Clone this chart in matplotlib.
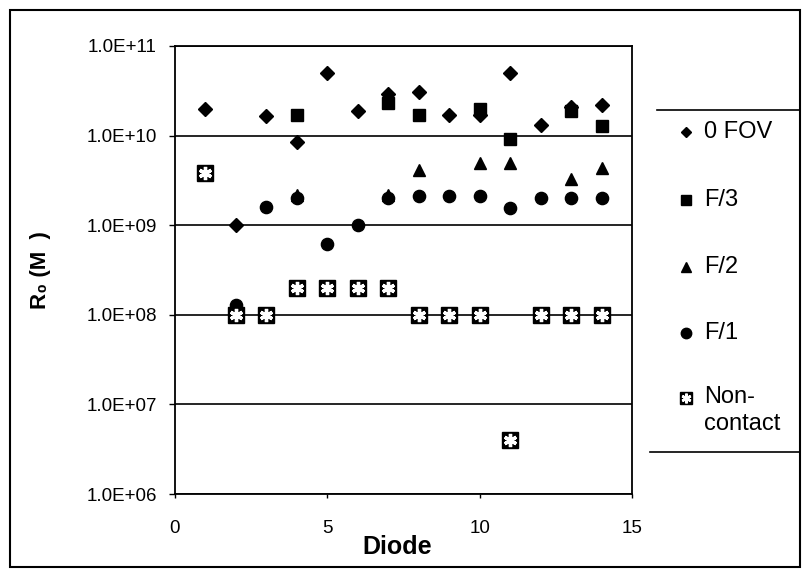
import numpy as np
import matplotlib.pyplot as plt
from matplotlib.lines import Line2D
from matplotlib.patches import Rectangle

#-------------------- DATA ------------------------#
diode = list(range(1, 15))
fov0 = [2.0e10, 1.0e9, 1.65e10, 8.5e9, 5.0e10, 1.9e10, 2.9e10,
        3.1e10, 1.7e10, 1.7e10, 5.0e10, 1.33e10, 2.1e10, 2.2e10]

f3_diode = [4, 7, 8, 10, 11, 13, 14]
f3 = [1.7e10, 2.3e10, 1.7e10, 2.0e10, 9.1e9, 1.9e10, 1.29e10]

f2_diode = [4, 7, 8, 10, 11, 13, 14]
f2 = [2.2e9, 2.2e9, 4.1e9, 5.0e9, 4.9e9, 3.3e9, 4.3e9]

f1_diode = list(range(2, 15))
f1 = [1.27e8, 1.6e9, 2.0e9, 6.2e8, 1.0e9, 2.0e9, 2.1e9,
      2.1e9, 2.1e9, 1.55e9, 2.0e9, 2.0e9, 2.0e9]

noncontact = [3.8e9, 1e8, 1e8, 2e8, 2e8, 2e8, 2e8,
              1e8, 1e8, 1e8, 4e6, 1e8, 1e8, 1e8]

yticks = [1e6, 1e7, 1e8, 1e9, 1e10, 1e11]
ytick_labels = ['1.0E+06', '1.0E+07', '1.0E+08', '1.0E+09', '1.0E+10', '1.0E+11']
xticks = [0, 5, 10, 15]

legend_labels = ['0 FOV', 'F/3', 'F/2', 'F/1', 'Non-\ncontact']

#-------------------- PLOTTING ------------------------#
W, H = 803, 579
plt.rcParams['font.family'] = ['Liberation Sans', 'DejaVu Sans']

def px(x, y):
    # pixel position (from top-left) -> figure fraction
    return x / W, 1 - y / H

fig = plt.figure(figsize=(W / 100, H / 100), dpi=100)
ax = fig.add_axes([175 / W, 1 - 494 / H, (632 - 175) / W, (494 - 46) / H])

ax.set_yscale('log')
ax.set_xlim(0, 15)
ax.set_ylim(1e6, 1e11)

for y in yticks:
    ax.axhline(y, color='black', lw=1.2, zorder=1)

mk = dict(color='black', linestyle='none', zorder=3)
ax.plot(diode, fov0, marker='D', ms=6.8, **mk)
ax.plot(f3_diode, f3, marker='s', ms=8.5, **mk)
ax.plot(f2_diode, f2, marker='^', ms=9, **mk)
ax.plot(f1_diode, f1, marker='o', ms=8.8, **mk)
ax.plot(diode, noncontact, marker='s', ms=11.5, color='black', linestyle='none', zorder=4)
ax.plot(diode, noncontact, marker=(6, 2, 0), ms=9.5, mew=2.4, color='white',
        linestyle='none', zorder=5)

ax.set_yticks(yticks)
ax.set_yticklabels(ytick_labels)
ax.minorticks_off()
ax.set_xticks(xticks)
ax.tick_params(axis='y', length=4, width=1, pad=9, labelsize=13.5, direction='out')
ax.tick_params(axis='x', length=3, width=1, pad=16, labelsize=13.5, direction='out')

for s in ax.spines.values():
    s.set_linewidth(1.3)
    s.set_color('black')

ax.set_xlabel('Diode', fontsize=18, fontweight='bold')
ax.xaxis.set_label_coords(0.486, -0.092)
ax.set_ylabel('R₀ (M  )', fontsize=16, fontweight='bold')
ax.yaxis.set_label_coords(-0.272, 0.5)

# legend (drawn by hand, like the original: two rules, no frame)
leg_y = [132, 200, 267, 333, 398]
leg_styles = [dict(marker='D', ms=5), dict(marker='s', ms=6.5), dict(marker='^', ms=7.5),
              dict(marker='o', ms=7.5), dict(marker='s', ms=8.5)]
for lab, yy, st in zip(legend_labels, leg_y, leg_styles):
    mx, my = px(686, yy)
    fig.add_artist(Line2D([mx], [my], transform=fig.transFigure, color='black',
                          linestyle='none', **st))
    tx, ty = px(704, yy)
    if '\n' in lab:
        fig.text(tx, ty + 0.021, lab, fontsize=17, va='top', ha='left', linespacing=1.3)
        fig.add_artist(Line2D([mx], [my], transform=fig.transFigure, color='white',
                              marker=(6, 2, 0), ms=7, mew=1.8, linestyle='none'))
    else:
        fig.text(tx, ty, lab, fontsize=17, va='center', ha='left')

for (x0, x1, yy) in [(657, 800, 110), (650, 800, 452)]:
    a, b = px(x0, yy)
    c, d = px(x1, yy)
    fig.add_artist(Line2D([a, c], [b, d], transform=fig.transFigure, color='black', lw=1.2))

# outer chart border
fig.add_artist(Rectangle(px(10, 567), 790 / W, 557 / H, transform=fig.transFigure,
                         fill=False, edgecolor='black', lw=1.5))

fig.savefig('out.png', dpi=100)
